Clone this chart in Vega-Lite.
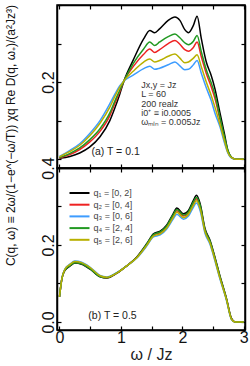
{
  "$schema": "https://vega.github.io/schema/vega-lite/v6.json",
  "padding": {"left": 5, "top": 3, "right": 6, "bottom": 2},
  "bounds": "flush",
  "spacing": 0,
  "title": {"text": "C(q, ω)  ≡  2ω/(1−e^(−ω/T))  χq  Re D(q, ω₊)/(a²Jz³)", "orient": "left", "anchor": "end", "frame": "group", "fontSize": 12, "fontWeight": "normal", "font": "Liberation Sans", "color": "#111", "offset": 21},
  "resolve": {"scale": {"color": "independent"}, "legend": {"color": "independent"}},
  "config": {
    "font": "Liberation Sans",
    "view": {"stroke": "black", "strokeWidth": 1.5},
    "axis": {"domainColor": "black", "domainWidth": 1.5, "tickColor": "black", "tickWidth": 1.2, "tickSize": -4, "labelColor": "#111", "labelFontSize": 16, "labelFont": "Liberation Sans", "grid": false, "titleFontWeight": "normal", "labelPadding": 3, "labelOverlap": false},
    "legend": {"symbolType": "M-1,0H3", "symbolSize": 100, "symbolStrokeWidth": 2, "labelFontSize": 9, "labelColor": "#444", "labelOffset": 13, "rowPadding": 0.7, "padding": 0}
  },
  "datasets": {
    "top": [
      {"q":"q₁ = [0, 2]","w":0,"v":0.002},{"q":"q₁ = [0, 2]","w":0.17,"v":0.007},{"q":"q₁ = [0, 2]","w":0.33,"v":0.016},{"q":"q₁ = [0, 2]","w":0.49,"v":0.031},{"q":"q₁ = [0, 2]","w":0.66,"v":0.058},{"q":"q₁ = [0, 2]","w":0.82,"v":0.1},{"q":"q₁ = [0, 2]","w":0.9,"v":0.132},{"q":"q₁ = [0, 2]","w":0.98,"v":0.168},{"q":"q₁ = [0, 2]","w":1.05,"v":0.203},{"q":"q₁ = [0, 2]","w":1.2,"v":0.257},{"q":"q₁ = [0, 2]","w":1.37,"v":0.312},{"q":"q₁ = [0, 2]","w":1.47,"v":0.334},{"q":"q₁ = [0, 2]","w":1.55,"v":0.328},{"q":"q₁ = [0, 2]","w":1.63,"v":0.338},{"q":"q₁ = [0, 2]","w":1.77,"v":0.36},{"q":"q₁ = [0, 2]","w":1.88,"v":0.369},{"q":"q₁ = [0, 2]","w":1.96,"v":0.36},{"q":"q₁ = [0, 2]","w":2.04,"v":0.336},{"q":"q₁ = [0, 2]","w":2.1,"v":0.328},{"q":"q₁ = [0, 2]","w":2.18,"v":0.347},{"q":"q₁ = [0, 2]","w":2.24,"v":0.371},{"q":"q₁ = [0, 2]","w":2.31,"v":0.312},{"q":"q₁ = [0, 2]","w":2.39,"v":0.252},{"q":"q₁ = [0, 2]","w":2.47,"v":0.217},{"q":"q₁ = [0, 2]","w":2.53,"v":0.183},{"q":"q₁ = [0, 2]","w":2.61,"v":0.122},{"q":"q₁ = [0, 2]","w":2.69,"v":0.062},{"q":"q₁ = [0, 2]","w":2.74,"v":0.023},{"q":"q₁ = [0, 2]","w":2.8,"v":0.005},{"q":"q₁ = [0, 2]","w":2.87,"v":0},{"q":"q₁ = [0, 2]","w":3.0,"v":0},
      {"q":"q₂ = [0, 4]","w":0,"v":0.003},{"q":"q₂ = [0, 4]","w":0.17,"v":0.012},{"q":"q₂ = [0, 4]","w":0.33,"v":0.025},{"q":"q₂ = [0, 4]","w":0.49,"v":0.044},{"q":"q₂ = [0, 4]","w":0.66,"v":0.072},{"q":"q₂ = [0, 4]","w":0.82,"v":0.113},{"q":"q₂ = [0, 4]","w":0.9,"v":0.144},{"q":"q₂ = [0, 4]","w":0.98,"v":0.174},{"q":"q₂ = [0, 4]","w":1.05,"v":0.203},{"q":"q₂ = [0, 4]","w":1.2,"v":0.24},{"q":"q₂ = [0, 4]","w":1.37,"v":0.272},{"q":"q₂ = [0, 4]","w":1.47,"v":0.286},{"q":"q₂ = [0, 4]","w":1.55,"v":0.277},{"q":"q₂ = [0, 4]","w":1.63,"v":0.284},{"q":"q₂ = [0, 4]","w":1.77,"v":0.3},{"q":"q₂ = [0, 4]","w":1.88,"v":0.308},{"q":"q₂ = [0, 4]","w":1.96,"v":0.298},{"q":"q₂ = [0, 4]","w":2.04,"v":0.284},{"q":"q₂ = [0, 4]","w":2.1,"v":0.28},{"q":"q₂ = [0, 4]","w":2.18,"v":0.29},{"q":"q₂ = [0, 4]","w":2.24,"v":0.304},{"q":"q₂ = [0, 4]","w":2.31,"v":0.265},{"q":"q₂ = [0, 4]","w":2.39,"v":0.222},{"q":"q₂ = [0, 4]","w":2.47,"v":0.188},{"q":"q₂ = [0, 4]","w":2.53,"v":0.158},{"q":"q₂ = [0, 4]","w":2.61,"v":0.105},{"q":"q₂ = [0, 4]","w":2.69,"v":0.05},{"q":"q₂ = [0, 4]","w":2.74,"v":0.02},{"q":"q₂ = [0, 4]","w":2.8,"v":0.004},{"q":"q₂ = [0, 4]","w":2.87,"v":0},{"q":"q₂ = [0, 4]","w":3.0,"v":0},
      {"q":"q₃ = [0, 6]","w":0,"v":0.007},{"q":"q₃ = [0, 6]","w":0.17,"v":0.023},{"q":"q₃ = [0, 6]","w":0.33,"v":0.04},{"q":"q₃ = [0, 6]","w":0.49,"v":0.066},{"q":"q₃ = [0, 6]","w":0.66,"v":0.1},{"q":"q₃ = [0, 6]","w":0.82,"v":0.144},{"q":"q₃ = [0, 6]","w":0.9,"v":0.168},{"q":"q₃ = [0, 6]","w":0.98,"v":0.19},{"q":"q₃ = [0, 6]","w":1.05,"v":0.203},{"q":"q₃ = [0, 6]","w":1.2,"v":0.218},{"q":"q₃ = [0, 6]","w":1.37,"v":0.235},{"q":"q₃ = [0, 6]","w":1.47,"v":0.241},{"q":"q₃ = [0, 6]","w":1.55,"v":0.233},{"q":"q₃ = [0, 6]","w":1.63,"v":0.236},{"q":"q₃ = [0, 6]","w":1.77,"v":0.245},{"q":"q₃ = [0, 6]","w":1.88,"v":0.252},{"q":"q₃ = [0, 6]","w":1.96,"v":0.242},{"q":"q₃ = [0, 6]","w":2.04,"v":0.232},{"q":"q₃ = [0, 6]","w":2.1,"v":0.233},{"q":"q₃ = [0, 6]","w":2.18,"v":0.245},{"q":"q₃ = [0, 6]","w":2.24,"v":0.256},{"q":"q₃ = [0, 6]","w":2.31,"v":0.222},{"q":"q₃ = [0, 6]","w":2.39,"v":0.185},{"q":"q₃ = [0, 6]","w":2.47,"v":0.152},{"q":"q₃ = [0, 6]","w":2.53,"v":0.12},{"q":"q₃ = [0, 6]","w":2.61,"v":0.085},{"q":"q₃ = [0, 6]","w":2.69,"v":0.04},{"q":"q₃ = [0, 6]","w":2.74,"v":0.016},{"q":"q₃ = [0, 6]","w":2.8,"v":0.003},{"q":"q₃ = [0, 6]","w":2.87,"v":0},{"q":"q₃ = [0, 6]","w":3.0,"v":0},
      {"q":"q₄ = [2, 4]","w":0,"v":0.004},{"q":"q₄ = [2, 4]","w":0.17,"v":0.015},{"q":"q₄ = [2, 4]","w":0.33,"v":0.029},{"q":"q₄ = [2, 4]","w":0.49,"v":0.05},{"q":"q₄ = [2, 4]","w":0.66,"v":0.079},{"q":"q₄ = [2, 4]","w":0.82,"v":0.12},{"q":"q₄ = [2, 4]","w":0.9,"v":0.15},{"q":"q₄ = [2, 4]","w":0.98,"v":0.178},{"q":"q₄ = [2, 4]","w":1.05,"v":0.203},{"q":"q₄ = [2, 4]","w":1.2,"v":0.248},{"q":"q₄ = [2, 4]","w":1.37,"v":0.286},{"q":"q₄ = [2, 4]","w":1.47,"v":0.304},{"q":"q₄ = [2, 4]","w":1.55,"v":0.295},{"q":"q₄ = [2, 4]","w":1.63,"v":0.304},{"q":"q₄ = [2, 4]","w":1.77,"v":0.318},{"q":"q₄ = [2, 4]","w":1.88,"v":0.325},{"q":"q₄ = [2, 4]","w":1.96,"v":0.315},{"q":"q₄ = [2, 4]","w":2.04,"v":0.302},{"q":"q₄ = [2, 4]","w":2.1,"v":0.297},{"q":"q₄ = [2, 4]","w":2.18,"v":0.306},{"q":"q₄ = [2, 4]","w":2.24,"v":0.321},{"q":"q₄ = [2, 4]","w":2.31,"v":0.278},{"q":"q₄ = [2, 4]","w":2.39,"v":0.232},{"q":"q₄ = [2, 4]","w":2.47,"v":0.198},{"q":"q₄ = [2, 4]","w":2.53,"v":0.168},{"q":"q₄ = [2, 4]","w":2.61,"v":0.11},{"q":"q₄ = [2, 4]","w":2.69,"v":0.055},{"q":"q₄ = [2, 4]","w":2.74,"v":0.024},{"q":"q₄ = [2, 4]","w":2.8,"v":0.005},{"q":"q₄ = [2, 4]","w":2.87,"v":0},{"q":"q₄ = [2, 4]","w":3.0,"v":0},
      {"q":"q₅ = [2, 6]","w":0,"v":0.006},{"q":"q₅ = [2, 6]","w":0.17,"v":0.02},{"q":"q₅ = [2, 6]","w":0.33,"v":0.036},{"q":"q₅ = [2, 6]","w":0.49,"v":0.06},{"q":"q₅ = [2, 6]","w":0.66,"v":0.093},{"q":"q₅ = [2, 6]","w":0.82,"v":0.135},{"q":"q₅ = [2, 6]","w":0.9,"v":0.162},{"q":"q₅ = [2, 6]","w":0.98,"v":0.186},{"q":"q₅ = [2, 6]","w":1.05,"v":0.203},{"q":"q₅ = [2, 6]","w":1.2,"v":0.228},{"q":"q₅ = [2, 6]","w":1.37,"v":0.252},{"q":"q₅ = [2, 6]","w":1.47,"v":0.26},{"q":"q₅ = [2, 6]","w":1.55,"v":0.252},{"q":"q₅ = [2, 6]","w":1.63,"v":0.256},{"q":"q₅ = [2, 6]","w":1.77,"v":0.267},{"q":"q₅ = [2, 6]","w":1.88,"v":0.273},{"q":"q₅ = [2, 6]","w":1.96,"v":0.262},{"q":"q₅ = [2, 6]","w":2.04,"v":0.25},{"q":"q₅ = [2, 6]","w":2.1,"v":0.252},{"q":"q₅ = [2, 6]","w":2.18,"v":0.262},{"q":"q₅ = [2, 6]","w":2.24,"v":0.271},{"q":"q₅ = [2, 6]","w":2.31,"v":0.239},{"q":"q₅ = [2, 6]","w":2.39,"v":0.2},{"q":"q₅ = [2, 6]","w":2.47,"v":0.165},{"q":"q₅ = [2, 6]","w":2.53,"v":0.135},{"q":"q₅ = [2, 6]","w":2.61,"v":0.092},{"q":"q₅ = [2, 6]","w":2.69,"v":0.045},{"q":"q₅ = [2, 6]","w":2.74,"v":0.018},{"q":"q₅ = [2, 6]","w":2.8,"v":0.004},{"q":"q₅ = [2, 6]","w":2.87,"v":0},{"q":"q₅ = [2, 6]","w":3.0,"v":0}
    ],
    "bot": [
      {"q":"q₁ = [0, 2]","w":0,"v":0.065},{"q":"q₁ = [0, 2]","w":0.04,"v":0.112},{"q":"q₁ = [0, 2]","w":0.09,"v":0.134},{"q":"q₁ = [0, 2]","w":0.17,"v":0.145},{"q":"q₁ = [0, 2]","w":0.25,"v":0.153},{"q":"q₁ = [0, 2]","w":0.36,"v":0.15},{"q":"q₁ = [0, 2]","w":0.5,"v":0.137},{"q":"q₁ = [0, 2]","w":0.66,"v":0.117},{"q":"q₁ = [0, 2]","w":0.77,"v":0.114},{"q":"q₁ = [0, 2]","w":0.93,"v":0.126},{"q":"q₁ = [0, 2]","w":1.09,"v":0.145},{"q":"q₁ = [0, 2]","w":1.26,"v":0.169},{"q":"q₁ = [0, 2]","w":1.42,"v":0.203},{"q":"q₁ = [0, 2]","w":1.53,"v":0.229},{"q":"q₁ = [0, 2]","w":1.64,"v":0.236},{"q":"q₁ = [0, 2]","w":1.74,"v":0.251},{"q":"q₁ = [0, 2]","w":1.85,"v":0.281},{"q":"q₁ = [0, 2]","w":1.91,"v":0.296},{"q":"q₁ = [0, 2]","w":2.02,"v":0.281},{"q":"q₁ = [0, 2]","w":2.1,"v":0.29},{"q":"q₁ = [0, 2]","w":2.18,"v":0.316},{"q":"q₁ = [0, 2]","w":2.23,"v":0.329},{"q":"q₁ = [0, 2]","w":2.29,"v":0.307},{"q":"q₁ = [0, 2]","w":2.37,"v":0.242},{"q":"q₁ = [0, 2]","w":2.45,"v":0.212},{"q":"q₁ = [0, 2]","w":2.5,"v":0.186},{"q":"q₁ = [0, 2]","w":2.61,"v":0.121},{"q":"q₁ = [0, 2]","w":2.72,"v":0.06},{"q":"q₁ = [0, 2]","w":2.8,"v":0.009},{"q":"q₁ = [0, 2]","w":2.86,"v":0},{"q":"q₁ = [0, 2]","w":3.0,"v":0},
      {"q":"q₂ = [0, 4]","w":0,"v":0.065},{"q":"q₂ = [0, 4]","w":0.04,"v":0.113},{"q":"q₂ = [0, 4]","w":0.09,"v":0.136},{"q":"q₂ = [0, 4]","w":0.17,"v":0.147},{"q":"q₂ = [0, 4]","w":0.25,"v":0.155},{"q":"q₂ = [0, 4]","w":0.36,"v":0.152},{"q":"q₂ = [0, 4]","w":0.5,"v":0.139},{"q":"q₂ = [0, 4]","w":0.66,"v":0.119},{"q":"q₂ = [0, 4]","w":0.77,"v":0.115},{"q":"q₂ = [0, 4]","w":0.93,"v":0.127},{"q":"q₂ = [0, 4]","w":1.09,"v":0.145},{"q":"q₂ = [0, 4]","w":1.26,"v":0.168},{"q":"q₂ = [0, 4]","w":1.42,"v":0.2},{"q":"q₂ = [0, 4]","w":1.53,"v":0.225},{"q":"q₂ = [0, 4]","w":1.64,"v":0.232},{"q":"q₂ = [0, 4]","w":1.74,"v":0.246},{"q":"q₂ = [0, 4]","w":1.85,"v":0.275},{"q":"q₂ = [0, 4]","w":1.91,"v":0.289},{"q":"q₂ = [0, 4]","w":2.02,"v":0.275},{"q":"q₂ = [0, 4]","w":2.1,"v":0.283},{"q":"q₂ = [0, 4]","w":2.18,"v":0.308},{"q":"q₂ = [0, 4]","w":2.23,"v":0.32},{"q":"q₂ = [0, 4]","w":2.29,"v":0.299},{"q":"q₂ = [0, 4]","w":2.37,"v":0.237},{"q":"q₂ = [0, 4]","w":2.45,"v":0.208},{"q":"q₂ = [0, 4]","w":2.5,"v":0.182},{"q":"q₂ = [0, 4]","w":2.61,"v":0.117},{"q":"q₂ = [0, 4]","w":2.72,"v":0.058},{"q":"q₂ = [0, 4]","w":2.8,"v":0.008},{"q":"q₂ = [0, 4]","w":2.86,"v":0},{"q":"q₂ = [0, 4]","w":3.0,"v":0},
      {"q":"q₃ = [0, 6]","w":0,"v":0.065},{"q":"q₃ = [0, 6]","w":0.04,"v":0.114},{"q":"q₃ = [0, 6]","w":0.09,"v":0.138},{"q":"q₃ = [0, 6]","w":0.17,"v":0.15},{"q":"q₃ = [0, 6]","w":0.25,"v":0.158},{"q":"q₃ = [0, 6]","w":0.36,"v":0.155},{"q":"q₃ = [0, 6]","w":0.5,"v":0.142},{"q":"q₃ = [0, 6]","w":0.66,"v":0.121},{"q":"q₃ = [0, 6]","w":0.77,"v":0.117},{"q":"q₃ = [0, 6]","w":0.93,"v":0.128},{"q":"q₃ = [0, 6]","w":1.09,"v":0.145},{"q":"q₃ = [0, 6]","w":1.26,"v":0.166},{"q":"q₃ = [0, 6]","w":1.42,"v":0.197},{"q":"q₃ = [0, 6]","w":1.53,"v":0.221},{"q":"q₃ = [0, 6]","w":1.64,"v":0.226},{"q":"q₃ = [0, 6]","w":1.74,"v":0.24},{"q":"q₃ = [0, 6]","w":1.85,"v":0.267},{"q":"q₃ = [0, 6]","w":1.91,"v":0.28},{"q":"q₃ = [0, 6]","w":2.02,"v":0.267},{"q":"q₃ = [0, 6]","w":2.1,"v":0.275},{"q":"q₃ = [0, 6]","w":2.18,"v":0.298},{"q":"q₃ = [0, 6]","w":2.23,"v":0.309},{"q":"q₃ = [0, 6]","w":2.29,"v":0.289},{"q":"q₃ = [0, 6]","w":2.37,"v":0.23},{"q":"q₃ = [0, 6]","w":2.45,"v":0.202},{"q":"q₃ = [0, 6]","w":2.5,"v":0.176},{"q":"q₃ = [0, 6]","w":2.61,"v":0.113},{"q":"q₃ = [0, 6]","w":2.72,"v":0.055},{"q":"q₃ = [0, 6]","w":2.8,"v":0.006},{"q":"q₃ = [0, 6]","w":2.86,"v":0},{"q":"q₃ = [0, 6]","w":3.0,"v":0},
      {"q":"q₄ = [2, 4]","w":0,"v":0.065},{"q":"q₄ = [2, 4]","w":0.04,"v":0.113},{"q":"q₄ = [2, 4]","w":0.09,"v":0.135},{"q":"q₄ = [2, 4]","w":0.17,"v":0.146},{"q":"q₄ = [2, 4]","w":0.25,"v":0.154},{"q":"q₄ = [2, 4]","w":0.36,"v":0.151},{"q":"q₄ = [2, 4]","w":0.5,"v":0.138},{"q":"q₄ = [2, 4]","w":0.66,"v":0.118},{"q":"q₄ = [2, 4]","w":0.77,"v":0.115},{"q":"q₄ = [2, 4]","w":0.93,"v":0.127},{"q":"q₄ = [2, 4]","w":1.09,"v":0.145},{"q":"q₄ = [2, 4]","w":1.26,"v":0.168},{"q":"q₄ = [2, 4]","w":1.42,"v":0.202},{"q":"q₄ = [2, 4]","w":1.53,"v":0.227},{"q":"q₄ = [2, 4]","w":1.64,"v":0.234},{"q":"q₄ = [2, 4]","w":1.74,"v":0.248},{"q":"q₄ = [2, 4]","w":1.85,"v":0.278},{"q":"q₄ = [2, 4]","w":1.91,"v":0.292},{"q":"q₄ = [2, 4]","w":2.02,"v":0.278},{"q":"q₄ = [2, 4]","w":2.1,"v":0.286},{"q":"q₄ = [2, 4]","w":2.18,"v":0.312},{"q":"q₄ = [2, 4]","w":2.23,"v":0.324},{"q":"q₄ = [2, 4]","w":2.29,"v":0.303},{"q":"q₄ = [2, 4]","w":2.37,"v":0.239},{"q":"q₄ = [2, 4]","w":2.45,"v":0.21},{"q":"q₄ = [2, 4]","w":2.5,"v":0.184},{"q":"q₄ = [2, 4]","w":2.61,"v":0.119},{"q":"q₄ = [2, 4]","w":2.72,"v":0.059},{"q":"q₄ = [2, 4]","w":2.8,"v":0.008},{"q":"q₄ = [2, 4]","w":2.86,"v":0},{"q":"q₄ = [2, 4]","w":3.0,"v":0},
      {"q":"q₅ = [2, 6]","w":0,"v":0.065},{"q":"q₅ = [2, 6]","w":0.04,"v":0.113},{"q":"q₅ = [2, 6]","w":0.09,"v":0.137},{"q":"q₅ = [2, 6]","w":0.17,"v":0.149},{"q":"q₅ = [2, 6]","w":0.25,"v":0.157},{"q":"q₅ = [2, 6]","w":0.36,"v":0.154},{"q":"q₅ = [2, 6]","w":0.5,"v":0.141},{"q":"q₅ = [2, 6]","w":0.66,"v":0.12},{"q":"q₅ = [2, 6]","w":0.77,"v":0.116},{"q":"q₅ = [2, 6]","w":0.93,"v":0.127},{"q":"q₅ = [2, 6]","w":1.09,"v":0.145},{"q":"q₅ = [2, 6]","w":1.26,"v":0.167},{"q":"q₅ = [2, 6]","w":1.42,"v":0.199},{"q":"q₅ = [2, 6]","w":1.53,"v":0.223},{"q":"q₅ = [2, 6]","w":1.64,"v":0.229},{"q":"q₅ = [2, 6]","w":1.74,"v":0.243},{"q":"q₅ = [2, 6]","w":1.85,"v":0.271},{"q":"q₅ = [2, 6]","w":1.91,"v":0.285},{"q":"q₅ = [2, 6]","w":2.02,"v":0.271},{"q":"q₅ = [2, 6]","w":2.1,"v":0.28},{"q":"q₅ = [2, 6]","w":2.18,"v":0.303},{"q":"q₅ = [2, 6]","w":2.23,"v":0.315},{"q":"q₅ = [2, 6]","w":2.29,"v":0.294},{"q":"q₅ = [2, 6]","w":2.37,"v":0.234},{"q":"q₅ = [2, 6]","w":2.45,"v":0.205},{"q":"q₅ = [2, 6]","w":2.5,"v":0.179},{"q":"q₅ = [2, 6]","w":2.61,"v":0.115},{"q":"q₅ = [2, 6]","w":2.72,"v":0.057},{"q":"q₅ = [2, 6]","w":2.8,"v":0.007},{"q":"q₅ = [2, 6]","w":2.86,"v":0},{"q":"q₅ = [2, 6]","w":3.0,"v":0}
    ]
  },
  "vconcat": [
    {
      "width": 188, "height": 163,
      "layer": [
        {
          "data": {"name": "top"},
          "mark": {"type": "line", "strokeWidth": 1.5, "interpolate": "monotone"},
          "encoding": {
            "x": {"field": "w", "type": "quantitative", "scale": {"domain": [-0.04, 3.02], "nice": false, "zero": false}, "axis": {"values": [0, 0.5, 1, 1.5, 2, 2.5, 3], "labels": false, "title": null}},
            "y": {"field": "v", "type": "quantitative", "scale": {"domain": [-0.023, 0.4], "nice": false, "zero": false}, "axis": {"values": [0, 0.1, 0.2, 0.3, 0.4], "format": ".1f", "labelExpr": "datum.value == 0.2 ? datum.label : ''", "labelAngle": -90, "labelAlign": "center", "labelBaseline": "bottom", "labelPadding": 5, "title": null}},
            "color": {"field": "q", "type": "nominal", "scale": {"domain": ["q₁ = [0, 2]", "q₂ = [0, 4]", "q₃ = [0, 6]", "q₄ = [2, 4]", "q₅ = [2, 6]"], "range": ["#000000", "#ee2222", "#3d9cff", "#229922", "#b8b000"]}, "legend": null}
          }
        },
        {
          "data": {"values": [{}]},
          "mark": {"type": "text", "align": "left", "baseline": "top", "fontSize": 9, "lineHeight": 9.3, "color": "#333", "text": ["Jx,y = Jz", "L = 60", "200 realz", "i0⁺ ≡ i0.0005", "ωₘᵢₙ = 0.005Jz"]},
          "encoding": {
            "x": {"datum": 1.33, "type": "quantitative", "scale": {"domain": [-0.04, 3.02], "nice": false, "zero": false}, "axis": {"orient": "top", "values": [0, 0.5, 1, 1.5, 2, 2.5, 3], "labels": false, "title": null}},
            "y": {"datum": 0.203, "type": "quantitative", "scale": {"domain": [-0.023, 0.4], "nice": false, "zero": false}, "axis": {"orient": "right", "values": [0, 0.1, 0.2, 0.3, 0.4], "labels": false, "title": null}}
          }
        },
        {
          "data": {"values": [{}]},
          "mark": {"type": "text", "align": "left", "baseline": "middle", "fontSize": 10.5, "color": "#222", "text": "(a)  T = 0.1"},
          "encoding": {
            "x": {"datum": 0.52, "type": "quantitative", "axis": null},
            "y": {"datum": 0.018, "type": "quantitative", "axis": null}
          }
        }
      ],
      "resolve": {"axis": {"x": "independent", "y": "independent"}}
    },
    {
      "width": 188, "height": 162,
      "layer": [
        {
          "data": {"name": "bot"},
          "mark": {"type": "line", "strokeWidth": 1.5, "interpolate": "monotone"},
          "encoding": {
            "x": {"field": "w", "type": "quantitative", "scale": {"domain": [-0.04, 3.02], "nice": false, "zero": false}, "axis": {"values": [0, 0.5, 1, 1.5, 2, 2.5, 3], "labelExpr": "datum.value % 1 == 0 ? format(datum.value, 'd') : ''", "title": "ω / Jz", "titleFontSize": 16, "titleFont": "Liberation Sans", "titleColor": "#222", "titlePadding": 1}},
            "y": {"field": "v", "type": "quantitative", "scale": {"domain": [-0.021, 0.4], "nice": false, "zero": false}, "axis": {"values": [0, 0.1, 0.2, 0.3, 0.4], "format": ".1f", "labelExpr": "(datum.value == 0 || datum.value == 0.2 || datum.value == 0.4) ? datum.label : ''", "labelAngle": -90, "labelAlign": "center", "labelBaseline": "bottom", "labelPadding": 5, "title": null}},
            "color": {"field": "q", "type": "nominal", "scale": {"domain": ["q₁ = [0, 2]", "q₂ = [0, 4]", "q₃ = [0, 6]", "q₄ = [2, 4]", "q₅ = [2, 6]"], "range": ["#000000", "#ee2222", "#3d9cff", "#229922", "#b8b000"]}, "legend": {"orient": "none", "legendX": 11.5, "legendY": 19, "title": null}}
          }
        },
        {
          "data": {"values": [{}]},
          "mark": {"type": "text", "align": "left", "baseline": "middle", "fontSize": 10.5, "color": "#222", "text": "(b)  T = 0.5"},
          "encoding": {
            "x": {"datum": 0.47, "type": "quantitative", "scale": {"domain": [-0.04, 3.02], "nice": false, "zero": false}, "axis": {"orient": "top", "values": [0, 0.5, 1, 1.5, 2, 2.5, 3], "labels": false, "title": null}},
            "y": {"datum": 0.016, "type": "quantitative", "scale": {"domain": [-0.021, 0.4], "nice": false, "zero": false}, "axis": {"orient": "right", "values": [0, 0.1, 0.2, 0.3, 0.4], "labels": false, "title": null}}
          }
        }
      ],
      "resolve": {"axis": {"x": "independent", "y": "independent"}}
    }
  ]
}
